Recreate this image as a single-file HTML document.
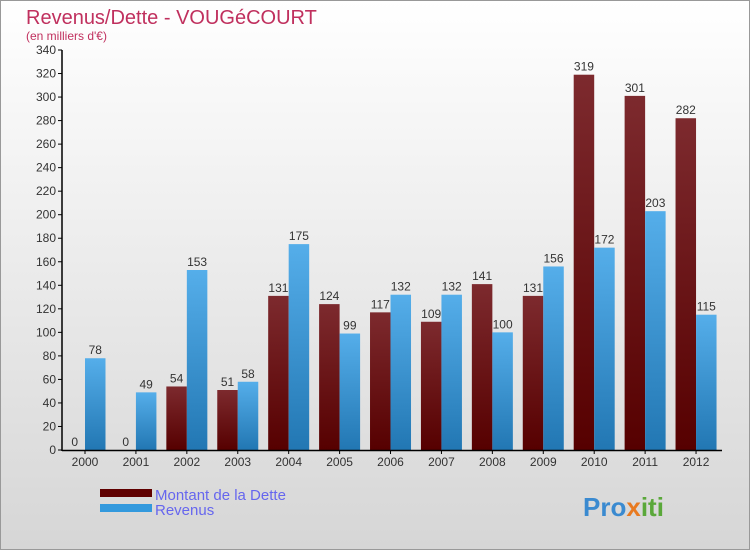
<!DOCTYPE html>
<html><head><meta charset="utf-8"><style>
body{margin:0;width:750px;height:550px;overflow:hidden;font-family:"Liberation Sans",sans-serif}
</style></head><body>
<svg id="c" width="750" height="550" xmlns="http://www.w3.org/2000/svg">
<defs>
<linearGradient id="bg" x1="0" y1="0" x2="0" y2="1"><stop offset="0" stop-color="#ffffff"/><stop offset="1" stop-color="#d6d6d6"/></linearGradient>
<linearGradient id="gd" x1="0" y1="0" x2="0" y2="1"><stop offset="0" stop-color="#7d2a2e"/><stop offset="1" stop-color="#560000"/></linearGradient>
<linearGradient id="gr" x1="0" y1="0" x2="0" y2="1"><stop offset="0" stop-color="#55aeea"/><stop offset="1" stop-color="#2277b3"/></linearGradient>
</defs>
<rect x="0.5" y="0.5" width="749" height="549" fill="url(#bg)" stroke="#999"/>
<text x="26" y="24" font-size="20" fill="#c0305e">Revenus/Dette - VOUGéCOURT</text>
<text x="26" y="40" font-size="12" fill="#c0305e">(en milliers d'€)</text>
<g id="plot"></g>
<rect x="100" y="489" width="52" height="8" fill="#600000"/>
<text x="155" y="500" font-size="15" fill="#6666ee">Montant de la Dette</text>
<rect x="100" y="504" width="52" height="8" fill="#3399dd"/>
<text x="155" y="515" font-size="15" fill="#6666ee">Revenus</text>
<text x="583" y="516" font-size="26" font-weight="bold" fill="#3a8ad0">Pro<tspan fill="#e87a20">x</tspan><tspan fill="#5aa83a">iti</tspan></text>
</svg>
<script>
const years=["2000","2001","2002","2003","2004","2005","2006","2007","2008","2009","2010","2011","2012"];
const dette=[0,0,54,51,131,124,117,109,141,131,319,301,282];
const revenus=[78,49,153,58,175,99,132,132,100,156,172,203,115];
const ticks=[0,20,40,60,80,100,120,140,160,180,200,220,240,260,280,300,320,340];
const NS="http://www.w3.org/2000/svg";
const g=document.getElementById('plot');
const y=v=>450-v*400/340;
const x=i=>85+i*50.92;
function mk(t,a){const e=document.createElementNS(NS,t);for(const k in a)e.setAttribute(k,a[k]);g.appendChild(e);return e;}
ticks.forEach(t=>{
 const l=mk('line',{x1:58,x2:62,y1:y(t),y2:y(t),stroke:'#000'});
 
 
 const tx=mk('text',{x:56,y:y(t)+4,'font-size':12,fill:'#333','text-anchor':'end'});tx.textContent=t;
 
 
});
years.forEach((yr,i)=>{
 const cx=x(i);
 const bw=20.5;
 const b1=mk('rect',{x:cx-bw,y:y(dette[i]),width:bw,height:Math.max(450-y(dette[i]),1),fill:'url(#gd)'});
 
 
 const b2=mk('rect',{x:cx,y:y(revenus[i]),width:bw,height:450-y(revenus[i]),fill:'url(#gr)'});
 
 
 const t1=mk('text',{x:cx-bw/2,y:y(dette[i])-4,'font-size':12,fill:'#333','text-anchor':'middle'});t1.textContent=dette[i];
 
 
 const t2=mk('text',{x:cx+bw/2,y:y(revenus[i])-4,'font-size':12,fill:'#333','text-anchor':'middle'});t2.textContent=revenus[i];
 
 
 const tk=mk('line',{x1:cx,x2:cx,y1:450,y2:454,stroke:'#000'});
 
 
 const xl=mk('text',{x:cx,y:466,'font-size':12,fill:'#333','text-anchor':'middle'});xl.textContent=yr;
 
 
});
const ya=mk('line',{x1:62,x2:62,y1:50,y2:451,stroke:'#000','stroke-width':1.5});


const xa=mk('line',{x1:62,x2:722,y1:450.5,y2:450.5,stroke:'#000','stroke-width':1.5});


</script>
</body></html>
